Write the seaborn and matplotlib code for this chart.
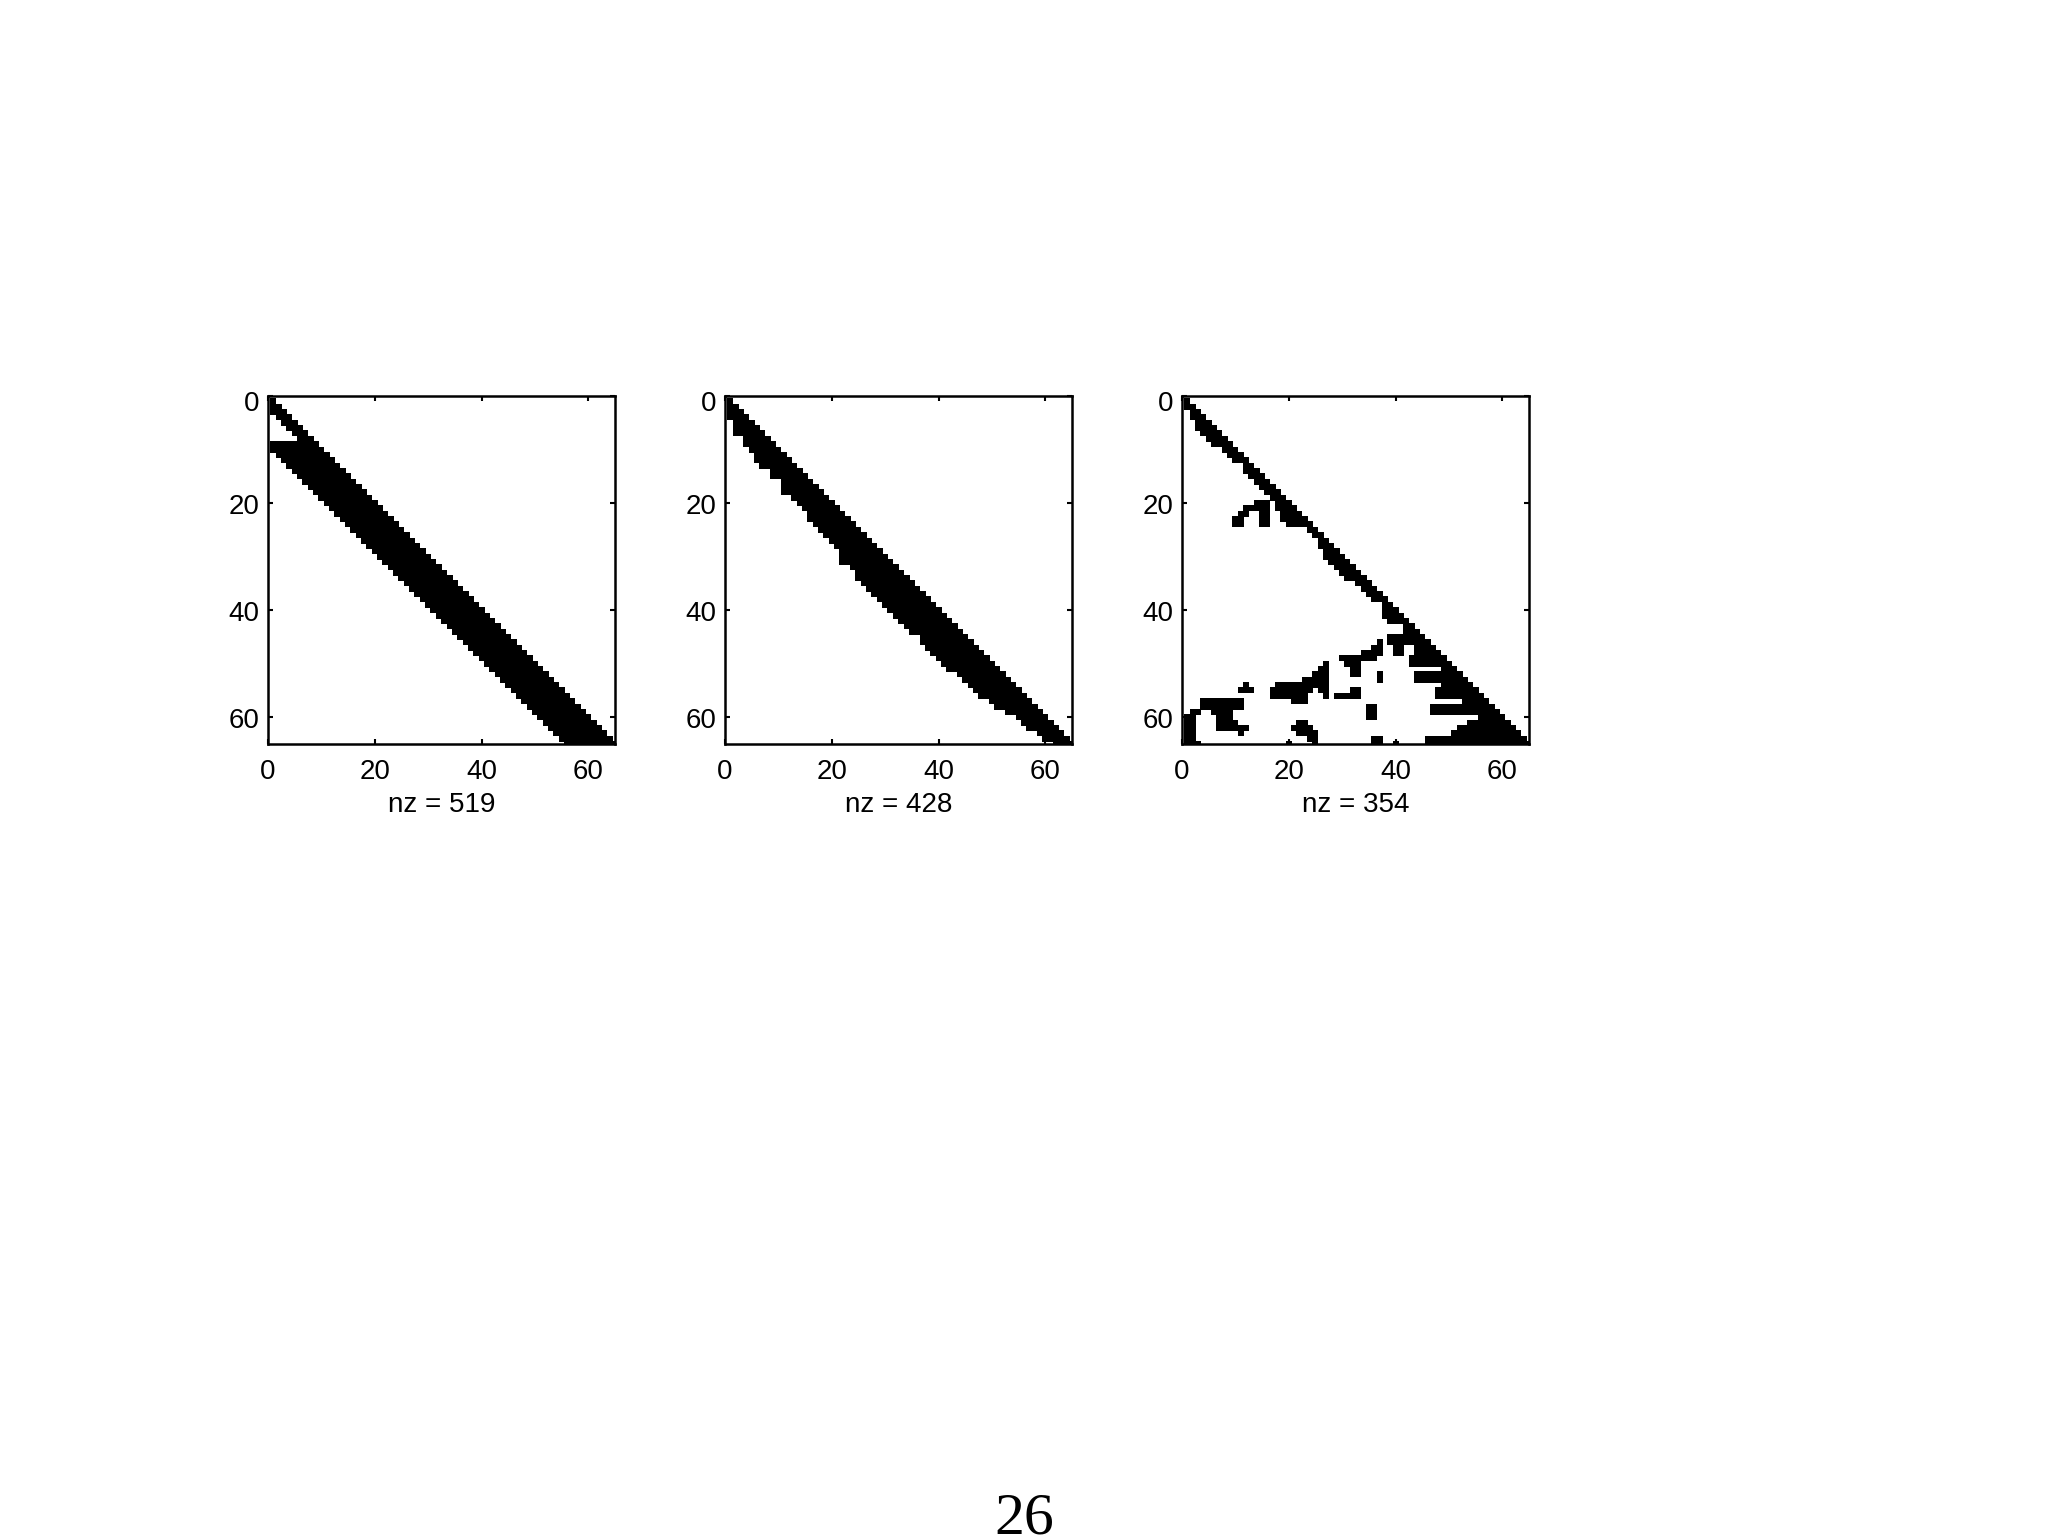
#!/usr/bin/env python3
"""Sparsity patterns of three 65x65 matrices, drawn as spy plots."""

import matplotlib
matplotlib.use("Agg")
import matplotlib.pyplot as plt
from matplotlib.transforms import ScaledTranslation
import pandas as pd
import seaborn as sns

ticks = [0, 20, 40, 60]
nz_labels = ["nz = 519", "nz = 428", "nz = 354"]
page_number = "26"

# rows are 1-based, every row runs from its start column up to the diagonal
rows = list(range(1, 66))
starts_a = [1, 1, 1, 2, 3, 4, 5, 6, 1, 1, 2, 3, 4, 5, 6, 7, 8, 9, 10, 11, 12, 13, 14,
            15, 16, 17, 18, 19, 20, 21, 22, 23, 24, 25, 26, 27, 28, 29, 30, 31, 32,
            33, 34, 35, 36, 37, 38, 39, 40, 41, 42, 43, 44, 45, 46, 47, 48, 49, 50,
            51, 52, 53, 54, 55, 56]
starts_b = [1, 1, 1, 1, 2, 2, 2, 4, 4, 5, 6, 6, 7, 9, 9, 11, 11, 11, 13, 14, 15, 16,
            16, 17, 18, 19, 20, 21, 22, 22, 22, 24, 25, 25, 26, 27, 28, 29, 30, 31,
            32, 33, 34, 35, 37, 37, 38, 39, 40, 41, 42, 44, 45, 46, 47, 48, 50, 51,
            53, 55, 56, 57, 59, 60, 62]

# third matrix is patchy, so it is kept as (row, first col, last col) runs
runs_c = [
    (1, 1, 1), (2, 1, 2), (3, 2, 3), (4, 2, 4), (5, 3, 5), (6, 3, 6), (7, 4, 7),
    (8, 5, 8), (9, 6, 9), (10, 8, 10), (11, 9, 11), (12, 10, 12), (13, 12, 13),
    (14, 12, 14), (15, 13, 15), (16, 14, 16), (17, 15, 17), (18, 16, 18), (19, 17, 19),
    (20, 18, 20), (21, 18, 21), (22, 19, 22), (23, 19, 23), (24, 20, 24), (25, 24, 25),
    (26, 25, 26), (27, 26, 27), (28, 26, 28), (29, 27, 29), (30, 27, 30), (31, 28, 31),
    (32, 29, 32), (33, 30, 33), (34, 31, 34), (35, 33, 35), (36, 34, 36), (37, 35, 37),
    (38, 36, 38), (39, 38, 39), (40, 38, 40), (41, 38, 41), (42, 39, 42), (43, 42, 43),
    (44, 42, 44), (45, 39, 45), (46, 39, 42), (46, 43, 46), (47, 40, 41), (47, 44, 47),
    (48, 40, 41), (48, 44, 48), (49, 43, 49), (50, 43, 50), (51, 49, 51), (52, 44, 52),
    (53, 44, 53), (54, 49, 54), (55, 48, 55), (56, 48, 56), (57, 53, 57), (58, 47, 58),
    (59, 47, 59), (60, 56, 60), (61, 54, 61), (62, 52, 62), (63, 51, 63), (64, 46, 64),
    (65, 46, 65),
    # island below the diagonal, rows 20-24
    (20, 14, 16), (21, 14, 16), (22, 15, 16), (23, 15, 16), (24, 15, 16),
    (21, 12, 13), (22, 11, 12), (23, 10, 11), (24, 10, 11),
    # lower islands
    (46, 37, 37), (47, 36, 37), (48, 34, 37), (49, 30, 36), (50, 31, 33), (51, 32, 33),
    (52, 32, 33), (52, 37, 37), (53, 37, 37),
    (50, 27, 27), (51, 26, 27), (52, 25, 27), (53, 23, 27), (54, 18, 25), (54, 26, 27),
    (55, 17, 24), (55, 26, 27), (56, 17, 23), (56, 27, 27), (57, 21, 23),
    (54, 12, 12), (55, 11, 13),
    (57, 4, 11), (58, 4, 11), (59, 6, 9), (60, 7, 9), (61, 7, 10), (62, 7, 12), (63, 11, 11),
    (59, 2, 3), (60, 1, 2), (61, 1, 2), (62, 1, 2), (63, 1, 2), (64, 1, 2), (65, 1, 3),
    (61, 22, 23), (62, 21, 24), (63, 22, 25), (64, 24, 25), (65, 25, 25), (65, 20, 20),
    (55, 32, 33), (56, 29, 33),
    (58, 35, 36), (59, 35, 36), (60, 35, 36),
    (64, 36, 37), (65, 36, 37), (65, 40, 40),
]


def expand_band(starts):
    """Turn per-row start columns into a table of nonzero cells."""
    cells = [(c, r) for r, s in zip(rows, starts) for c in range(s, r + 1)]
    return pd.DataFrame(cells, columns=["col", "row"])


def expand_runs(runs):
    cells = [(c, r) for r, a, b in runs for c in range(a, b + 1)]
    return pd.DataFrame(cells, columns=["col", "row"])


sns.set_theme(style="white", rc={"font.family": ["Liberation Sans", "DejaVu Sans"]})

fig = plt.figure(figsize=(20.48, 15.36), dpi=100)
W, H = 2048, 1536
lefts = [268, 725, 1182]
panel_w = 347
panel_h = 348
bottom = 744

# one cell is about 5.35 px, the original spy markers overlap a little
cell_pt = panel_w / 65 * 72 / 100 * 1.14
panels = [expand_band(starts_a), expand_band(starts_b), expand_runs(runs_c)]

for left, cells, label in zip(lefts, panels, nz_labels):
    ax = fig.add_axes([left / W, 1 - bottom / H, panel_w / W, panel_h / H])
    sns.scatterplot(data=cells, x="col", y="row", marker="s", s=cell_pt ** 2,
                    color="black", linewidth=0, ax=ax)
    ax.set_xlim(0, 65)
    ax.set_ylim(65, 0)
    ax.set_xticks(ticks)
    ax.set_yticks(ticks)
    ax.tick_params(direction="in", length=3.5, width=1.5, top=True, right=True,
                   labelsize=20, colors="black", left=True, bottom=True)
    ax.tick_params(axis="x", pad=11)
    ax.tick_params(axis="y", pad=6)
    ax.set_xlabel(label, fontsize=20, color="black", labelpad=5)
    ax.set_ylabel("")
    # labels sit a little under their ticks, the top one more so
    for tick_label, shift in zip(ax.get_yticklabels(), [5, 1, 1, 1]):
        tick_label.set_transform(tick_label.get_transform()
                                 + ScaledTranslation(0, -shift / 100, fig.dpi_scale_trans))
    for spine in ax.spines.values():
        spine.set_visible(True)
        spine.set_color("black")
        spine.set_linewidth(1.8)

fig.text(1024 / W, 1 - 1533 / H, page_number, ha="center", va="baseline",
         fontsize=43, color="black", family="Liberation Serif")

fig.savefig("out.png", dpi=100, facecolor="white")
plt.close(fig)
